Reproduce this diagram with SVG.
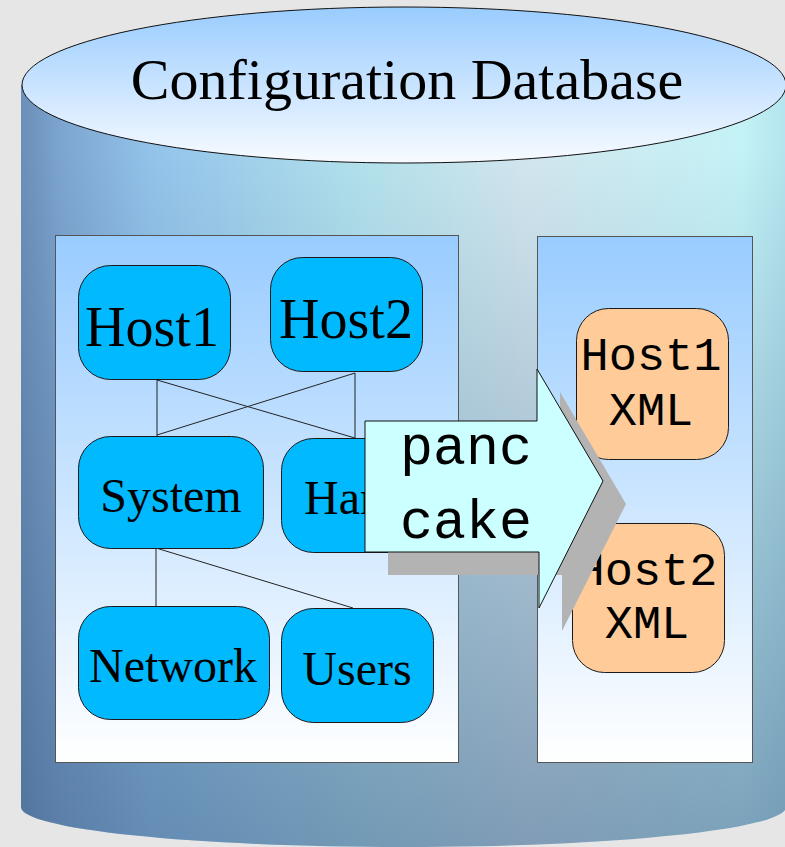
<svg xmlns="http://www.w3.org/2000/svg" width="785" height="847" viewBox="0 0 785 847">
<defs>
  <linearGradient id="bodyH" gradientUnits="userSpaceOnUse" x1="21" y1="0" x2="786" y2="0">
    <stop offset="0" stop-color="#6a8fb8"/>
    <stop offset="0.05" stop-color="#7ca4ce"/>
    <stop offset="0.17" stop-color="#93c3ea"/>
    <stop offset="0.45" stop-color="#b3e2ec"/>
    <stop offset="0.66" stop-color="#d2e6ee"/>
    <stop offset="0.94" stop-color="#c4f2f6"/>
    <stop offset="1" stop-color="#b4e4ee"/>
  </linearGradient>
  <linearGradient id="bodyV" gradientUnits="userSpaceOnUse" x1="0" y1="150" x2="0" y2="847">
    <stop offset="0" stop-color="#3e5f88" stop-opacity="0"/>
    <stop offset="1" stop-color="#3e5f88" stop-opacity="0.55"/>
  </linearGradient>
  <linearGradient id="topG" x1="0" y1="0" x2="0" y2="1">
    <stop offset="0" stop-color="#99ccff"/>
    <stop offset="1" stop-color="#f8fbff"/>
  </linearGradient>
  <linearGradient id="panelG" x1="0" y1="0" x2="0" y2="1">
    <stop offset="0" stop-color="#99ccff"/>
    <stop offset="1" stop-color="#ffffff"/>
  </linearGradient>
</defs>
<style>
  .node{fill:#00b9ff;stroke:#1a1a1a;stroke-width:1}
  .xml{fill:#ffcc99;stroke:#1a1a1a;stroke-width:1}
  .panel{fill:url(#panelG);stroke:#555555;stroke-width:1}
  .serif{font-family:"Liberation Serif","Times New Roman",serif;fill:#000000;text-anchor:middle}
  .mono{font-family:"Liberation Mono","Courier New",monospace;fill:#000000;text-anchor:middle}
  .conn line{stroke:#222222;stroke-width:1}
</style>

<rect x="0" y="0" width="785" height="847" fill="#e6e6e6"/>

<g id="database">
  <path d="M21,85 L21,807 A382,40 0 0 0 786,807 L786,85 Z" fill="url(#bodyH)"/>
  <path d="M21,85 L21,807 A382,40 0 0 0 786,807 L786,85 Z" fill="url(#bodyV)"/>
  <ellipse cx="404" cy="85" rx="382" ry="78" fill="url(#topG)" stroke="#111111" stroke-width="1"/>
  <text class="serif" x="407" y="99" font-size="58">Configuration Database</text>
</g>

<g id="source-panel">
  <rect class="panel" x="55.5" y="235.5" width="403" height="527"/>
</g>
<g id="output-panel">
  <rect class="panel" x="537.5" y="236.5" width="215" height="526"/>
</g>

<g id="connectors" class="conn">
  <line x1="157" y1="379" x2="157" y2="436"/>
  <line x1="157" y1="380" x2="355" y2="438"/>
  <line x1="355" y1="373" x2="157" y2="435"/>
  <line x1="355" y1="373" x2="355" y2="438"/>
  <line x1="156" y1="548" x2="156" y2="606"/>
  <line x1="156" y1="548" x2="353" y2="608"/>
</g>

<g id="host1">
  <rect class="node" x="78.5" y="265.5" width="152" height="114" rx="32" ry="32"/>
  <text class="serif" x="152" y="346" font-size="56">Host1</text>
</g>
<g id="host2">
  <rect class="node" x="270.5" y="257.5" width="152" height="114" rx="32" ry="32"/>
  <text class="serif" x="346" y="338" font-size="56">Host2</text>
</g>
<g id="system">
  <rect class="node" x="78.5" y="436.5" width="185" height="112" rx="32" ry="32"/>
  <text class="serif" x="171" y="512" font-size="48">System</text>
</g>
<g id="hardware">
  <rect class="node" x="281.5" y="438.5" width="148" height="114" rx="32" ry="32"/>
  <text class="serif" x="304" y="514" font-size="48" style="text-anchor:start">Har</text>
</g>
<g id="network">
  <rect class="node" x="78.5" y="606.5" width="191" height="113" rx="32" ry="32"/>
  <text class="serif" x="173" y="682" font-size="48">Network</text>
</g>
<g id="users">
  <rect class="node" x="281.5" y="608.5" width="152" height="114" rx="32" ry="32"/>
  <text class="serif" x="357" y="685" font-size="48">Users</text>
</g>

<g id="host1-xml">
  <rect class="xml" x="576.5" y="308.5" width="152" height="151" rx="32" ry="32"/>
  <text class="mono" x="651" y="370" font-size="47">Host1</text>
  <text class="mono" x="651" y="425" font-size="47">XML</text>
</g>
<g id="host2-xml">
  <rect class="xml" x="572.5" y="523.5" width="152" height="149" rx="32" ry="32"/>
  <text class="mono" x="647" y="585" font-size="47">Host2</text>
  <text class="mono" x="647" y="638" font-size="47">XML</text>
</g>

<g id="pancake">
  <polygon points="365,421 537,421 537,369 603,481 539,608 539,552 365,552" fill="#b3b3b3" transform="translate(23,23)"/>
  <polygon points="365,421 537,421 537,369 603,481 539,608 539,552 365,552" fill="#ccffff" stroke="#111111" stroke-width="1"/>
  <text class="mono" x="466" y="464" font-size="55">panc</text>
  <text class="mono" x="466" y="538" font-size="55">cake</text>
</g>
</svg>
